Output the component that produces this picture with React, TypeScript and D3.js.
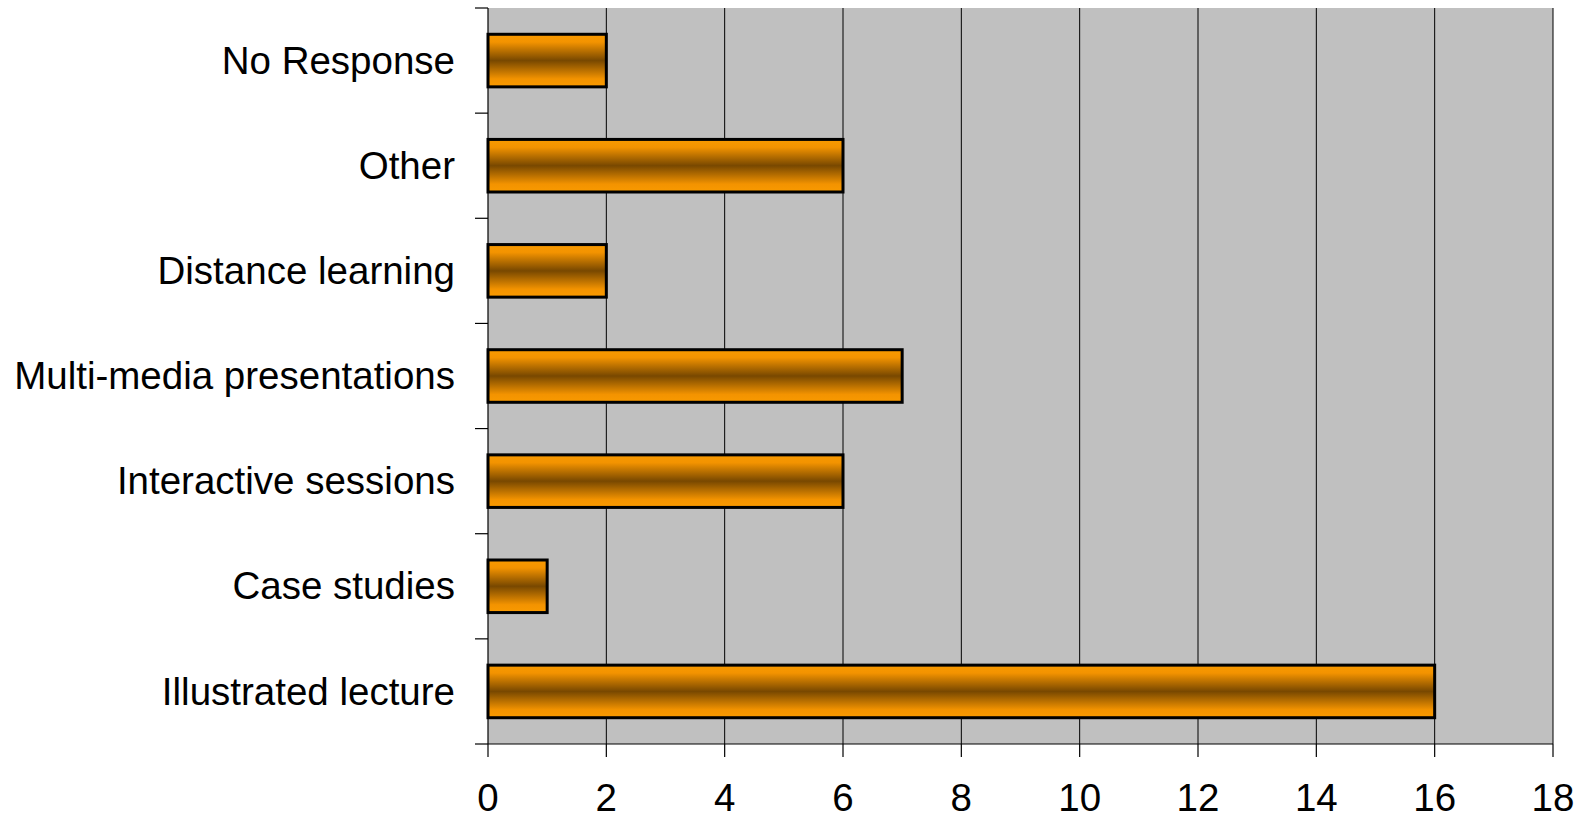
import * as d3 from "d3";

const categories = [
    "No Response",
    "Other",
    "Distance learning",
    "Multi-media presentations",
    "Interactive sessions",
    "Case studies",
    "Illustrated lecture",
];
const counts = [2, 6, 2, 7, 6, 1, 16];
const xTicks = [0, 2, 4, 6, 8, 10, 12, 14, 16, 18];

export default function App() {
    const width = 1585;
    const height = 819;
    const marginLeft = 488;
    const marginRight = 32;
    const marginTop = 8;
    const marginBottom = 75;

    const xScale = d3.scaleLinear()
        .domain([0, 18])
        .range([marginLeft, width - marginRight]);

    const yScale = d3.scaleBand()
        .domain(categories)
        .range([marginTop, height - marginBottom])
        .paddingInner(0.5)
        .paddingOuter(0.25);

    // band boundaries for the category axis ticks
    const step = yScale.step();
    const boundaries = d3.range(categories.length + 1).map(i => marginTop + i * step);

    const plotBottom = height - marginBottom;
    const font = "'Liberation Sans', Arial, sans-serif";

    return (
        <svg width={width} height={height} style={{position: "absolute", left: 0, top: 0}}>
            <defs>
                <linearGradient id="barFill" x1="0" y1="0" x2="0" y2="1">
                    <stop offset="0%" stopColor="#F99A00"/>
                    <stop offset="15%" stopColor="#F39300"/>
                    <stop offset="50%" stopColor="#784800"/>
                    <stop offset="85%" stopColor="#F39300"/>
                    <stop offset="100%" stopColor="#F99A00"/>
                </linearGradient>
            </defs>

            <rect x={marginLeft} y={marginTop}
                  width={xScale(18) - marginLeft} height={plotBottom - marginTop}
                  fill="#C0C0C0"/>

            {/* vertical gridlines */}
            {xTicks.slice(1).map(t => (
                <line key={"g" + t} x1={xScale(t)} x2={xScale(t)} y1={marginTop} y2={plotBottom}
                      stroke="#000" strokeWidth={1}/>
            ))}

            {/* bars */}
            {categories.map((c, i) => (
                <rect key={c}
                      x={xScale(0)} y={yScale(c)!}
                      width={xScale(counts[i]) - xScale(0)} height={yScale.bandwidth()}
                      fill="url(#barFill)" stroke="#000" strokeWidth={3}/>
            ))}

            {/* left axis */}
            <line x1={marginLeft} x2={marginLeft} y1={marginTop} y2={plotBottom} stroke="#000" strokeWidth={1.2}/>
            {boundaries.map((b, i) => (
                <line key={"yt" + i} x1={marginLeft - 13} x2={marginLeft} y1={b} y2={b} stroke="#000" strokeWidth={1.2}/>
            ))}
            {categories.map(c => (
                <text key={"l" + c} x={455} y={yScale(c)! + yScale.bandwidth() / 2}
                      dy="0.34em" textAnchor="end" fontFamily={font} fontSize={38.5} fill="#000">
                    {c}
                </text>
            ))}

            {/* bottom axis */}
            <line x1={marginLeft} x2={xScale(18)} y1={plotBottom} y2={plotBottom} stroke="#000" strokeWidth={1.2}/>
            {xTicks.map(t => (
                <g key={"xt" + t}>
                    <line x1={xScale(t)} x2={xScale(t)} y1={plotBottom} y2={plotBottom + 13} stroke="#000" strokeWidth={1.2}/>
                    <text x={xScale(t)} y={811} textAnchor="middle" fontFamily={font} fontSize={38.5} fill="#000">
                        {t}
                    </text>
                </g>
            ))}
        </svg>
    );
}
